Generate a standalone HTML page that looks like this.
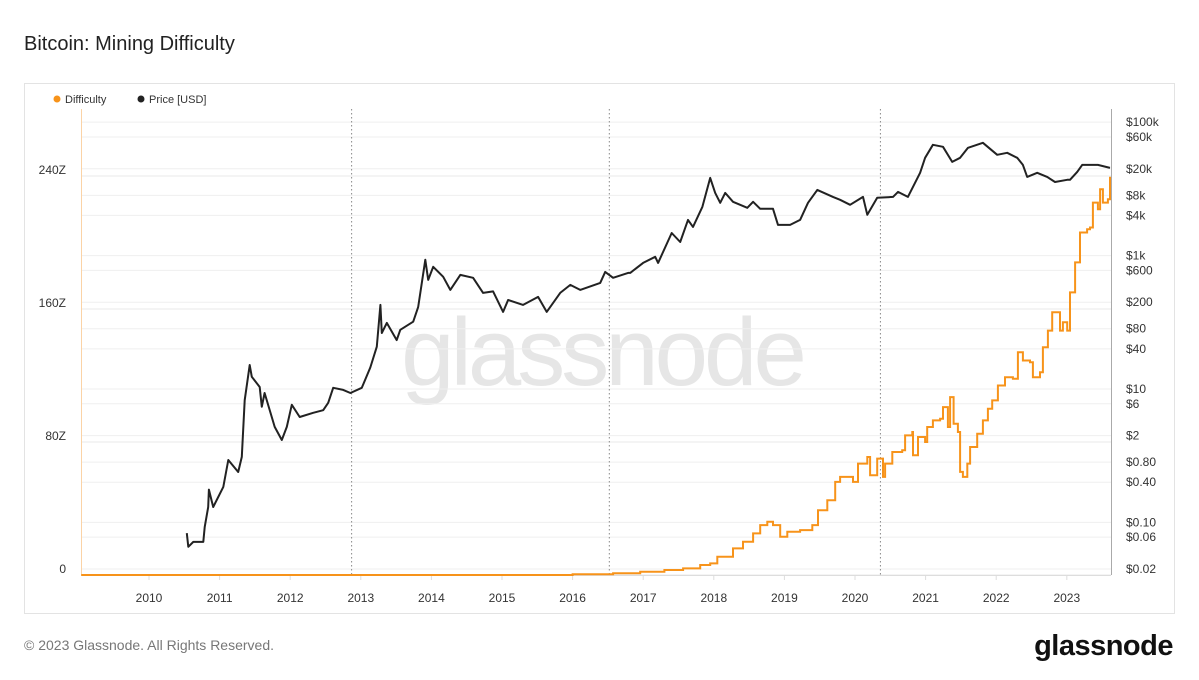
<!DOCTYPE html>
<html><head><meta charset="utf-8"><style>
body{margin:0;background:#fff;width:1199px;height:675px;overflow:hidden;font-family:"Liberation Sans",sans-serif}
</style></head><body>
<svg id="chart" width="1199" height="675" xmlns="http://www.w3.org/2000/svg" font-family="Liberation Sans, sans-serif">
<text x="24" y="50" font-size="20" fill="#222">Bitcoin: Mining Difficulty</text>
<rect x="24.5" y="83.5" width="1150" height="530" fill="none" stroke="#e3e3e3"/>
<text x="602" y="385" font-size="96" fill="#e6e6e6" text-anchor="middle" letter-spacing="-4">glassnode</text>
<g id="grid"></g>
<g id="axes"></g>
<g id="series"></g>
<g font-size="11" fill="#333">
<circle cx="57" cy="99" r="3.5" fill="#f7931a"/>
<text x="65" y="103">Difficulty</text>
<circle cx="141" cy="99" r="3.5" fill="#222"/>
<text x="149" y="103">Price [USD]</text>
</g>
<text x="24" y="650" font-size="14" fill="#777">© 2023 Glassnode. All Rights Reserved.</text>
<text x="1173" y="655" font-size="29" font-weight="bold" fill="#111" text-anchor="end" letter-spacing="-0.5">glassnode</text>
</svg>
<script>
const priceDates=[2010.536,2010.556,2010.627,2010.769,2010.789,2010.839,2010.849,2010.910,2011.052,2011.123,2011.264,2011.315,2011.355,2011.426,2011.456,2011.568,2011.598,2011.638,2011.780,2011.881,2011.952,2012.023,2012.134,2012.326,2012.468,2012.538,2012.609,2012.751,2012.852,2013.014,2013.135,2013.226,2013.277,2013.297,2013.368,2013.509,2013.560,2013.742,2013.813,2013.914,2013.954,2014.025,2014.167,2014.268,2014.409,2014.591,2014.733,2014.874,2015.016,2015.087,2015.299,2015.512,2015.633,2015.825,2015.967,2016.108,2016.391,2016.462,2016.573,2016.786,2016.816,2016.998,2017.170,2017.211,2017.403,2017.524,2017.635,2017.706,2017.838,2017.949,2018.020,2018.090,2018.161,2018.272,2018.475,2018.556,2018.657,2018.839,2018.910,2019.081,2019.223,2019.334,2019.466,2019.688,2019.789,2019.931,2020.113,2020.174,2020.315,2020.538,2020.609,2020.750,2020.922,2020.993,2021.104,2021.246,2021.377,2021.488,2021.600,2021.812,2022.014,2022.156,2022.297,2022.378,2022.439,2022.581,2022.722,2022.833,2023.005,2023.046,2023.147,2023.218,2023.440,2023.612];
const priceValues=[0.069,0.043,0.051,0.051,0.085,0.17,0.31,0.17,0.34,0.86,0.57,0.96,6.8,22.9,15.2,10.7,5.4,8.7,2.7,1.72,2.7,5.8,3.8,4.4,4.8,6.2,10.4,9.7,8.7,10.4,21,43,182,69,98,54,77,102,170,864,432,678,480,306,514,464,276,290,143,216,182,240,143,276,364,306,390,570,464,550,550,778,958,778,2180,1600,3430,2690,5380,14600,8700,6180,8700,6400,5200,6400,5020,5020,2880,2880,3430,6180,9650,7570,6860,5770,7570,4080,7350,7570,9000,7570,17400,29200,45800,42800,25400,29200,41300,49100,32400,34800,29200,22900,15100,17400,15100,12700,13700,13700,18000,22900,22900,20600];
const diffDates=[2009.04,2016.0,2016.573,2016.958,2017.3,2017.565,2017.807,2017.949,2018.050,2018.272,2018.414,2018.556,2018.657,2018.758,2018.839,2018.940,2019.041,2019.223,2019.395,2019.476,2019.607,2019.719,2019.789,2019.971,2020.042,2020.174,2020.214,2020.315,2020.396,2020.427,2020.528,2020.669,2020.710,2020.811,2020.821,2020.892,2020.993,2021.023,2021.104,2021.205,2021.246,2021.316,2021.347,2021.387,2021.397,2021.458,2021.488,2021.529,2021.590,2021.630,2021.731,2021.812,2021.883,2021.943,2022.024,2022.125,2022.237,2022.308,2022.378,2022.479,2022.520,2022.621,2022.661,2022.732,2022.793,2022.874,2022.904,2022.945,2023.005,2023.046,2023.117,2023.187,2023.288,2023.329,2023.369,2023.440,2023.471,2023.511,2023.582,2023.612];
const diffValues=[0,0.5,1,2,3,4,6,7,11,16,20,25,30,32,30,23,26,27,30,39,45,56,59,56,67,71,60,70,59,67,74,75,84,86,72,83,80,89,93,94,101,89,107,107,91,86,62,59,67,77,85,93,100,105,114,119,118,134,129,128,119,122,137,147,158,158,147,152,147,170,188,206,208,209,224,220,232,224,226,239];
const yearTicks=[2010,2011,2012,2013,2014,2015,2016,2017,2018,2019,2020,2021,2022,2023];
const leftTicks=[0,80,160,240];
const leftTickLabels=["0","80Z","160Z","240Z"];
const priceTicks=[0.02,0.06,0.1,0.4,0.8,2,6,10,40,80,200,600,1000,4000,8000,20000,60000,100000];
const priceTickLabels=["$0.02","$0.06","$0.10","$0.40","$0.80","$2","$6","$10","$40","$80","$200","$600","$1k","$4k","$8k","$20k","$60k","$100k"];
const halvings=[2012.87,2016.52,2020.36];

const NS="http://www.w3.org/2000/svg";
const L=81,R=1111,T=109,B=575;
const x=y=>149+(y-2010)*70.6;
const yL=v=>575-v*1.6625;
const yP=p=>569-Math.log10(p/0.02)*66.7;
function mk(tag,attrs,parent){const e=document.createElementNS(NS,tag);for(const k in attrs)e.setAttribute(k,attrs[k]);parent.appendChild(e);return e;}
const grid=document.getElementById('grid'),axes=document.getElementById('axes'),series=document.getElementById('series');
priceTicks.forEach(p=>{const l=mk('line',{x1:L,x2:R,y1:yP(p),y2:yP(p),stroke:'#efefef'},grid);

});
leftTicks.forEach(v=>{const l=mk('line',{x1:L,x2:R,y1:yL(v),y2:yL(v),stroke:'#e8e8e8'},grid);

});
halvings.forEach(h=>{const l=mk('line',{x1:x(h),x2:x(h),y1:T,y2:B,stroke:'#888','stroke-dasharray':'1.5,2.5'},grid);

});
const la=mk('line',{x1:L+0.5,x2:L+0.5,y1:T,y2:B,stroke:'#fbd3a6'},axes);


const ra=mk('line',{x1:R+0.5,x2:R+0.5,y1:T,y2:B,stroke:'#aaa'},axes);


const ba=mk('line',{x1:L,x2:R,y1:B+0.5,y2:B+0.5,stroke:'#ddd'},axes);


yearTicks.forEach(yr=>{const t=mk('text',{x:x(yr),y:602,'font-size':12,fill:'#333','text-anchor':'middle'},axes);t.textContent=yr;


const tk=mk('line',{x1:x(yr),x2:x(yr),y1:B,y2:B+5,stroke:'#ddd'},axes);

});
leftTicks.forEach((v,i)=>{const t=mk('text',{x:66,y:yL(v)-2,'font-size':12,fill:'#333','text-anchor':'end'},axes);t.textContent=leftTickLabels[i];

});
priceTicks.forEach((p,i)=>{const t=mk('text',{x:1126,y:yP(p)+4,'font-size':12,fill:'#333'},axes);t.textContent=priceTickLabels[i];

});
let dd='';diffDates.forEach((d,i)=>{const px=x(d).toFixed(1),py=yL(diffValues[i]).toFixed(1);
if(i===0)dd+=`M${px},${py}`;else dd+=`H${px}V${py}`;});
dd+=`H${R}`;
const dp=mk('path',{d:dd,fill:'none',stroke:'#f7931a','stroke-width':2},series);


const pd=priceDates.map((d,i)=>(i?'L':'M')+x(d).toFixed(1)+','+yP(priceValues[i]).toFixed(1)).join('');
const pp=mk('path',{d:pd,fill:'none',stroke:'#222','stroke-width':2,'stroke-linejoin':'round'},series);


</script>
</body></html>
